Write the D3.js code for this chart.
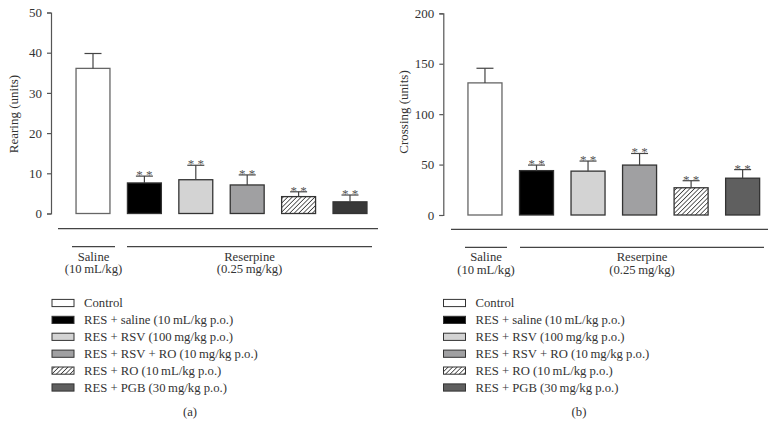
<!DOCTYPE html>
<html><head><meta charset="utf-8">
<script src="https://cdn.jsdelivr.net/npm/d3@7"></script>
<style>body{margin:0;background:#fff}svg{display:block}text{font-family:"Liberation Serif","DejaVu Serif",serif}</style>
</head><body><svg id="c" width="778" height="438"></svg>
<script>
const categories = ["Control","RES + saline (10\u2009mL/kg p.o.)","RES + RSV (100\u2009mg/kg p.o.)","RES + RSV + RO (10\u2009mg/kg p.o.)","RES + RO (10\u2009mL/kg p.o.)","RES + PGB (30\u2009mg/kg p.o.)"];
const rearingMean = [36.1, 7.6, 8.4, 7.1, 4.2, 2.9];
const rearingErr  = [39.8, 9.3, 12.0, 9.6, 5.4, 4.6];
const crossingMean = [131, 44, 43.5, 49.5, 27, 36.5];
const crossingErr  = [145.5, 49.5, 53.5, 61, 34, 45];
const signif = ["", "* *", "* *", "* *", "* *", "* *"];
const rearingTicks = [0,10,20,30,40,50];
const crossingTicks = [0,50,100,150,200];
const fillsA = ["#ffffff","#000000","#d3d3d3","#a0a0a2","url(#hatch)","#383838"];
const fillsB = ["#ffffff","#000000","#d3d3d3","#a0a0a2","url(#hatch)","#5f5f5f"];
const legendFills = ["#ffffff","#000000","#d3d3d3","#a0a0a2","url(#hatch)","#5f5f5f"];

const svg = d3.select("#c");
const defs = svg.append("defs");
const pat = defs.append("pattern").attr("id","hatch").attr("patternUnits","userSpaceOnUse")
  .attr("width",3.2).attr("height",3.2).attr("patternTransform","rotate(45)");
pat.append("rect").attr("width",3.2).attr("height",3.2).attr("fill","#fff");
pat.append("line").attr("x1",0).attr("y1",0).attr("x2",0).attr("y2",3.2).attr("stroke","#111").attr("stroke-width",1.3);

function panel(o){
  const g = svg.append("g");
  const y = d3.scaleLinear().domain([0,o.max]).range([o.y0,o.y1]);
  const x = d3.scaleBand().domain(categories).range(o.xr).paddingInner(0.34).paddingOuter(0.17);
  const ax = g.append("g").attr("transform",`translate(${o.ax},0)`)
    .call(d3.axisLeft(y).tickValues(o.ticks).tickSize(4).tickPadding(5).tickFormat(d3.format("d")));
  ax.select(".domain").attr("stroke","#555").attr("stroke-width",1.2);
  ax.selectAll(".tick line").attr("stroke","#555").attr("stroke-width",1.2);
  ax.selectAll(".tick text").style("font-size","13px").style("fill","#333");
  g.append("text").attr("transform",`translate(${o.titleX},${o.titleY}) rotate(-90)`)
    .attr("text-anchor","middle").attr("dominant-baseline","central").style("font-size","13px").style("fill","#333").text(o.title);
  // bars
  g.selectAll("rect.bar").data(o.mean).join("rect").attr("class","bar")
    .attr("x",(d,i)=>x(categories[i])).attr("width",x.bandwidth())
    .attr("y",d=>y(d)).attr("height",d=>y(0)-y(d))
    .attr("fill",(d,i)=>o.fills[i]).attr("stroke",(d,i)=>i===0?"#666":"#333").attr("stroke-width",1.3);
  // error bars
  const cx = i => x(categories[i]) + x.bandwidth()/2;
  g.selectAll("line.stem").data(o.err).join("line").attr("class","stem")
    .attr("x1",(d,i)=>cx(i)).attr("x2",(d,i)=>cx(i)).attr("y1",(d,i)=>y(o.mean[i])).attr("y2",d=>y(d))
    .attr("stroke","#444").attr("stroke-width",1.2);
  g.selectAll("line.cap").data(o.err).join("line").attr("class","cap")
    .attr("x1",(d,i)=>cx(i)-8.5).attr("x2",(d,i)=>cx(i)+8.5).attr("y1",d=>y(d)).attr("y2",d=>y(d))
    .attr("stroke","#444").attr("stroke-width",1.2);
  g.selectAll("text.sig").data(o.err).join("text").attr("class","sig")
    .attr("x",(d,i)=>cx(i)).attr("y",d=>y(d)+3).attr("text-anchor","middle")
    .style("font-size","13px").style("fill","#555").text((d,i)=>signif[i]);
  // base line
  g.append("line").attr("x1",o.base[0]).attr("x2",o.base[1]).attr("y1",o.baseY).attr("y2",o.baseY)
    .attr("stroke","#444").attr("stroke-width",1.3);
  // group lines
  const gy = o.baseY + 18;
  [[o.sal, "Saline", "(10\u2009mL/kg)"], [o.res, "Reserpine", "(0.25\u2009mg/kg)"]].forEach(([r,a,b])=>{
    g.append("line").attr("x1",r[0]).attr("x2",r[1]).attr("y1",gy).attr("y2",gy).attr("stroke","#444").attr("stroke-width",1.2);
    const c=(r[0]+r[1])/2;
    g.append("text").attr("x",c).attr("y",gy+14).attr("text-anchor","middle").style("font-size","12.7px").style("fill","#333").text(a);
    g.append("text").attr("x",c).attr("y",gy+26.5).attr("text-anchor","middle").style("font-size","12.7px").style("fill","#333").text(b);
  });
  // legend
  const lg = g.append("g");
  categories.forEach((c,i)=>{
    const yc = 303 + i*16.9;
    lg.append("rect").attr("x",o.legX).attr("y",yc-3.6).attr("width",22).attr("height",7.2)
      .attr("fill",legendFills[i]).attr("stroke","#333").attr("stroke-width",1);
    lg.append("text").attr("x",o.legX+32).attr("y",yc+4.3).style("font-size","12.7px").style("fill","#333").text(c);
  });
  g.append("text").attr("x",o.labX).attr("y",416).attr("text-anchor","middle").style("font-size","12.7px").style("fill","#333").text(o.label);
}

panel({max:50, y0:213.5, y1:12.5, ticks:rearingTicks, ax:51, xr:[67.3,375.7], title:"Rearing (units)", titleX:13, titleY:114,
  mean:rearingMean, err:rearingErr, fills:fillsA, base:[58,378], baseY:228.7, sal:[72,115], res:[127,372],
  legX:52, labX:190, label:"(a)"});
panel({max:200, y0:215, y1:13.3, ticks:crossingTicks, ax:443.3, xr:[459.2,768.4], title:"Crossing (units)", titleX:403.5, titleY:112,
  mean:crossingMean, err:crossingErr, fills:fillsB, base:[451,768], baseY:229.3, sal:[465,507], res:[520,764],
  legX:443.5, labX:579, label:"(b)"});
</script></body></html>
